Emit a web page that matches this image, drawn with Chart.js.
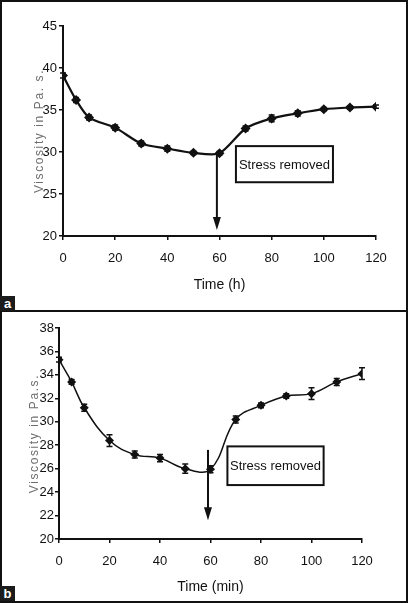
<!DOCTYPE html>
<html>
<head>
<meta charset="utf-8">
<script src="https://cdn.jsdelivr.net/npm/chart.js@4.4.1/dist/chart.umd.min.js"></script>
<style>
  html, body { margin: 0; padding: 0; background: #fff; }
  .frame { position: absolute; left: 0; width: 408px; border: 2px solid #111; box-sizing: border-box; }
  canvas { position: absolute; left: 0; }
  .tag { position: absolute; left: 0; width: 15px; height: 15px; background: #1b1b1b; color: #fff;
         font: bold 13px "Liberation Sans", Arial, sans-serif; text-align: center; line-height: 15px; }
</style>
</head>
<body>
<div class="frame" style="top:0;height:312px"></div>
<div class="frame" style="top:310px;height:293px"></div>
<canvas id="chartA" width="409" height="311" style="top:0"></canvas>
<canvas id="chartB" width="409" height="292" style="top:311px"></canvas>
<div class="tag" style="top:296px">a</div>
<div class="tag" style="top:586px">b</div>
<script>
// time points (same for both panels)
const timeA = [0, 5, 10, 20, 30, 40, 50, 60, 70, 80, 90, 100, 110, 120];
const timeB = [0, 5, 10, 20, 30, 40, 50, 60, 70, 80, 90, 100, 110, 120];

// panel a: viscosity vs time (h)
const viscA = [39.1, 36.2, 34.1, 32.9, 31.0, 30.4, 29.9, 29.85, 32.8, 34.0, 34.6, 35.1, 35.3, 35.4];
const errA  = [0.3, 0.3, 0.3, 0.3, 0.3, 0.3, 0.2, 0.2, 0.3, 0.4, 0.3, 0.2, 0.2, 0.2];
const yTicksA = [20, 25, 30, 35, 40, 45];

// panel b: viscosity vs time (min)
const viscB = [35.3, 33.4, 31.2, 28.4, 27.2, 26.9, 26.0, 25.95, 30.2, 31.4, 32.2, 32.4, 33.4, 34.1];
const errB  = [0.2, 0.2, 0.3, 0.5, 0.3, 0.3, 0.4, 0.3, 0.3, 0.2, 0.2, 0.5, 0.3, 0.5];
const yTicksB = [20, 22, 24, 26, 28, 30, 32, 34, 36, 38];

const xTicks = [0, 20, 40, 60, 80, 100, 120];

const FONT = '"Liberation Sans", Arial, sans-serif';

// error bars, arrow and "Stress removed" box, placed through the chart scales
const extras = {
  id: 'extras',
  afterLayout(chart) {
    // spaced-out grey y title like the original figure
    const s = chart.scales.y;
    const orig = Object.getPrototypeOf(s).drawTitle;
    s.drawTitle = function () {
      this.ctx.save();
      this.ctx.letterSpacing = '1.6px';
      orig.call(this);
      this.ctx.restore();
    };
  },
  afterDatasetsDraw(chart, args, opts) {
    const {ctx, scales: {x, y}} = chart;
    const errs = opts.errors;
    ctx.save();
    ctx.strokeStyle = '#111';
    ctx.lineWidth = 1.5;
    chart.data.datasets[0].data.forEach((p, i) => {
      const px = x.getPixelForValue(p.x);
      const y0 = y.getPixelForValue(p.y - errs[i]);
      const y1 = y.getPixelForValue(p.y + errs[i]);
      ctx.beginPath();
      ctx.moveTo(px, y0); ctx.lineTo(px, y1);
      ctx.moveTo(px - 3, y0); ctx.lineTo(px + 3, y0);
      ctx.moveTo(px - 3, y1); ctx.lineTo(px + 3, y1);
      ctx.stroke();
    });

    // arrow
    const a = opts.arrow;
    const ax = x.getPixelForValue(a.x);
    const ay0 = y.getPixelForValue(a.from);
    const ay1 = y.getPixelForValue(a.to);
    ctx.lineWidth = 2;
    ctx.beginPath();
    ctx.moveTo(ax, ay0); ctx.lineTo(ax, ay1 - 10);
    ctx.stroke();
    ctx.fillStyle = '#111';
    ctx.beginPath();
    ctx.moveTo(ax - 4, ay1 - 13);
    ctx.lineTo(ax + 4, ay1 - 13);
    ctx.lineTo(ax, ay1);
    ctx.closePath();
    ctx.fill();

    // box
    const b = opts.box;
    const bx0 = x.getPixelForValue(b.x0), bx1 = x.getPixelForValue(b.x1);
    const by0 = y.getPixelForValue(b.y0), by1 = y.getPixelForValue(b.y1);
    ctx.fillStyle = '#fff';
    ctx.fillRect(bx0, by0, bx1 - bx0, by1 - by0);
    ctx.lineWidth = 2;
    ctx.strokeRect(bx0, by0, bx1 - bx0, by1 - by0);
    ctx.fillStyle = '#111';
    ctx.font = '13px ' + FONT;
    ctx.textAlign = 'center';
    ctx.textBaseline = 'middle';
    ctx.fillText('Stress removed', (bx0 + bx1) / 2, (by0 + by1) / 2 + 1);
    ctx.restore();
  }
};

function makeChart(id, times, vals, errs, yTicks, cfg) {
  return new Chart(document.getElementById(id), {
    type: 'line',
    data: {
      datasets: [{
        data: times.map((t, i) => ({x: t, y: vals[i]})),
        borderColor: '#111',
        backgroundColor: '#111',
        borderWidth: cfg.lineWidth,
        tension: cfg.tension,
        pointStyle: 'rectRot',
        pointRadius: cfg.pointRadius,
        pointBorderWidth: 0
      }]
    },
    options: {
      responsive: false,
      animation: false,
      layout: {padding: cfg.padding},
      plugins: {
        legend: {display: false},
        tooltip: {enabled: false},
        extras: {errors: errs, arrow: cfg.arrow, box: cfg.box}
      },
      scales: {
        x: {
          type: 'linear', min: 0, max: 120,
          afterFit: s => { s.height = cfg.xHeight; },
          afterBuildTicks: s => { s.ticks = xTicks.map(v => ({value: v})); },
          grid: {drawOnChartArea: false, tickLength: 4, color: '#111', lineWidth: 1.5},
          border: {color: '#111', width: 2},
          ticks: {color: '#111', padding: 11, font: {family: FONT, size: 13}},
          title: {display: true, text: cfg.xTitle, color: '#111',
                  font: {family: FONT, size: 14}, padding: {top: 0, bottom: cfg.xTitlePad}}
        },
        y: {
          min: yTicks[0], max: yTicks[yTicks.length - 1],
          afterFit: s => { s.width = cfg.yWidth; },
          afterBuildTicks: s => { s.ticks = yTicks.map(v => ({value: v})); },
          grid: {drawOnChartArea: false, tickLength: 4, color: '#111', lineWidth: 1.5},
          border: {color: '#111', width: 2},
          ticks: {color: '#111', padding: cfg.yTickPad, font: {family: FONT, size: 13}},
          title: {display: true, text: cfg.yTitle, color: '#6e6e6e',
                  font: {family: FONT, size: 12}, padding: {top: cfg.yTitlePad, bottom: 0}}
        }
      }
    },
    plugins: [extras]
  });
}

makeChart('chartA', timeA, viscA, errA, yTicksA, {
  padding: {top: 26, right: 33, left: 0, bottom: 0},
  yWidth: 63, xHeight: 75, yTickPad: 2,
  xTitle: 'Time (h)', xTitlePad: 17,
  yTitle: 'Viscosity in Pa. s.', yTitlePad: 32,
  lineWidth: 2.2, tension: 0.25, pointRadius: 5,
  arrow: {x: 59, from: 29.85, to: 20.7},
  box: {x0: 66.3, x1: 103.5, y0: 30.7, y1: 26.4}
});

makeChart('chartB', timeB, viscB, errB, yTicksB, {
  padding: {top: 17, right: 47, left: 0, bottom: 0},
  yWidth: 59, xHeight: 64, yTickPad: 1,
  xTitle: 'Time (min)', xTitlePad: 7,
  yTitle: 'Viscosity in Pa.s.', yTitlePad: 27,
  lineWidth: 1.5, tension: 0.4, pointRadius: 4.5,
  arrow: {x: 59, from: 27.6, to: 21.6},
  box: {x0: 66.7, x1: 104.8, y0: 27.9, y1: 24.6}
});
</script>
</body>
</html>
